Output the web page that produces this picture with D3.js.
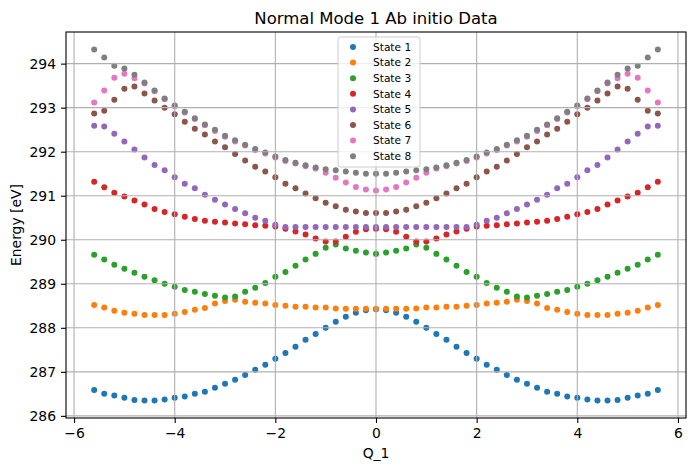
<!DOCTYPE html>
<html>
<head>
<meta charset="utf-8">
<script src="https://cdn.jsdelivr.net/npm/d3@7"></script>
<style>
body{margin:0;background:#fff}
svg{display:block;font-family:'DejaVu Sans',sans-serif}
</style>
</head>
<body>
<div class="chart"></div>
<script>
// scan points for q >= 0; the ab initio curves are mirror symmetric in q,
// so the q < 0 half is the same values read backwards
var qHalf = [0, 0.2, 0.4, 0.6, 0.8, 1.0, 1.2, 1.4, 1.6, 1.8, 2.0, 2.2, 2.4, 2.6, 2.8,
  3.0, 3.2, 3.4, 3.6, 3.8, 4.0, 4.2, 4.4, 4.6, 4.8, 5.0, 5.2, 5.4, 5.6]

var states = ['State 1', 'State 2', 'State 3', 'State 4', 'State 5', 'State 6', 'State 7', 'State 8']
var colors = ['#1f77b4', '#ff7f0e', '#2ca02c', '#d62728', '#9467bd', '#8c564b', '#e377c2', '#7f7f7f']

var e1 = [288.42, 288.40, 288.34, 288.25, 288.14, 288.00, 287.86, 287.73, 287.57, 287.43, 287.30, 287.16, 287.05, 286.93, 286.82,
  286.73, 286.64, 286.55, 286.50, 286.44, 286.41, 286.37, 286.35, 286.35, 286.36, 286.41, 286.46, 286.50, 286.59]
var e2 = [288.43, 288.43, 288.43, 288.43, 288.44, 288.46, 288.46, 288.48, 288.48, 288.50, 288.52, 288.55, 288.57, 288.59, 288.64,
  288.61, 288.55, 288.45, 288.41, 288.36, 288.32, 288.29, 288.29, 288.29, 288.32, 288.34, 288.39, 288.46, 288.52]
var e3 = [289.68, 289.71, 289.75, 289.80, 289.89, 289.82, 289.68, 289.55, 289.41, 289.27, 289.16, 289.02, 288.91, 288.82, 288.71,
  288.69, 288.73, 288.77, 288.82, 288.86, 288.93, 289.00, 289.08, 289.16, 289.25, 289.34, 289.43, 289.55, 289.66]
var e4 = [290.25, 290.24, 290.18, 290.07, 289.96, 289.96, 290.03, 290.12, 290.19, 290.25, 290.30, 290.32, 290.33, 290.35, 290.37,
  290.39, 290.41, 290.43, 290.47, 290.52, 290.58, 290.63, 290.70, 290.80, 290.89, 290.98, 291.07, 291.19, 291.32]
var e5 = [290.29, 290.29, 290.29, 290.29, 290.29, 290.29, 290.29, 290.29, 290.29, 290.29, 290.34, 290.43, 290.50, 290.60, 290.70,
  290.80, 290.91, 291.02, 291.17, 291.27, 291.42, 291.58, 291.70, 291.87, 292.05, 292.23, 292.41, 292.57, 292.59]
var e6 = [290.61, 290.61, 290.64, 290.68, 290.76, 290.84, 290.94, 291.05, 291.17, 291.27, 291.42, 291.55, 291.66, 291.80, 291.95,
  292.10, 292.23, 292.39, 292.52, 292.68, 292.85, 293.00, 293.16, 293.32, 293.48, 293.43, 293.18, 292.93, 292.87]
var e7 = [291.12, 291.14, 291.20, 291.30, 291.41, 291.52, 291.62, 291.67, 291.73, 291.79, 291.87, 291.96, 292.04, 292.14, 292.23,
  292.34, 292.47, 292.60, 292.74, 292.89, 293.03, 293.19, 293.37, 293.55, 293.67, 293.77, 293.68, 293.39, 293.12]
var e8 = [291.50, 291.50, 291.52, 291.55, 291.58, 291.60, 291.64, 291.69, 291.75, 291.81, 291.89, 291.98, 292.06, 292.16, 292.26,
  292.36, 292.50, 292.62, 292.76, 292.91, 293.05, 293.21, 293.39, 293.57, 293.75, 293.89, 293.95, 294.14, 294.32]

var xTicks = [-6, -4, -2, 0, 2, 4, 6]
var yTicks = [286, 287, 288, 289, 290, 291, 292, 293, 294]

var energies = [e1, e2, e3, e4, e5, e6, e7, e8]

var width = 695, height = 470
var margin = {left: 66, right: 9, top: 32, bottom: 52}
var cw = width - margin.left - margin.right
var ch = height - margin.top - margin.bottom

var mirror = arr => arr.slice(1).reverse().concat(arr)
var q = qHalf.slice(1).reverse().map(d => -d).concat(qHalf)

var series = energies.map((arr, i) => ({
  name: states[i],
  color: colors[i],
  values: mirror(arr).map((e, j) => ({q: q[j], e}))
}))

// matplotlib style 5% autoscale margins
var pad = ([a, b]) => [a - (b - a)*.05, b + (b - a)*.05]
var x = d3.scaleLinear().domain(pad(d3.extent(q))).range([0, cw])
var y = d3.scaleLinear().domain(pad(d3.extent(d3.merge(energies)))).range([ch, 0])

var svg = d3.select('.chart').append('svg').attr('width', width).attr('height', height)
var g = svg.append('g').attr('transform', `translate(${margin.left},${margin.top})`)

// points
g.selectAll('g.state').data(series).join('g').attr('class', 'state')
  .attr('fill', d => d.color)
  .selectAll('circle').data(d => d.values).join('circle')
  .attr('cx', d => x(d.q))
  .attr('cy', d => y(d.e))
  .attr('r', 3)

// grid sits above the scatter like matplotlib's default zorder
var grid = g.append('g').attr('stroke', '#b0b0b0').attr('stroke-width', 1.1)
grid.selectAll('line.gx').data(xTicks).join('line').attr('class', 'gx')
  .attr('x1', d => x(d)).attr('x2', d => x(d)).attr('y1', 0).attr('y2', ch)
grid.selectAll('line.gy').data(yTicks).join('line').attr('class', 'gy')
  .attr('y1', d => y(d)).attr('y2', d => y(d)).attr('x1', 0).attr('x2', cw)

g.append('g').attr('transform', `translate(0,${ch})`)
  .call(d3.axisBottom(x).tickValues(xTicks).tickSize(5).tickPadding(5))
g.append('g')
  .call(d3.axisLeft(y).tickValues(yTicks).tickSize(5).tickPadding(5).tickFormat(d3.format('d')))

g.selectAll('.domain').remove()
g.selectAll('.tick line').attr('stroke', '#000').attr('stroke-width', 1.1)
g.selectAll('.tick text').attr('fill', '#000').style('font-size', '13.9px').style('font-family', "'DejaVu Sans'")

g.append('rect')
  .attr('width', cw).attr('height', ch)
  .attr('fill', 'none').attr('stroke', '#000').attr('stroke-width', 1.1)

svg.append('text')
  .text('Normal Mode 1 Ab initio Data')
  .attr('x', margin.left + cw/2).attr('y', 24)
  .attr('text-anchor', 'middle').style('font-size', '16.5px')

svg.append('text')
  .text('Q_1')
  .attr('x', margin.left + cw/2).attr('y', 458)
  .attr('text-anchor', 'middle').style('font-size', '13.9px')

svg.append('text')
  .text('Energy [eV]')
  .attr('transform', `translate(21,${margin.top + ch/2}) rotate(-90)`)
  .attr('text-anchor', 'middle').style('font-size', '13.9px')

// legend, upper centre
var leg = g.append('g').attr('transform', `translate(${cw/2 - 38},5)`)
leg.append('rect')
  .attr('width', 82).attr('height', 130).attr('rx', 2.5)
  .attr('fill', '#fff').attr('fill-opacity', .8)
  .attr('stroke', '#cccccc').attr('stroke-width', 1)

var row = leg.selectAll('g.row').data(series).join('g').attr('class', 'row')
  .attr('transform', (d, i) => `translate(0,${10 + i*15.6})`)
row.append('circle').attr('cx', 15).attr('r', 3).attr('fill', d => d.color)
row.append('text').text(d => d.name)
  .attr('x', 35).attr('dy', '0.35em')
  .style('font-size', '10.6px')
</script>
</body>
</html>
